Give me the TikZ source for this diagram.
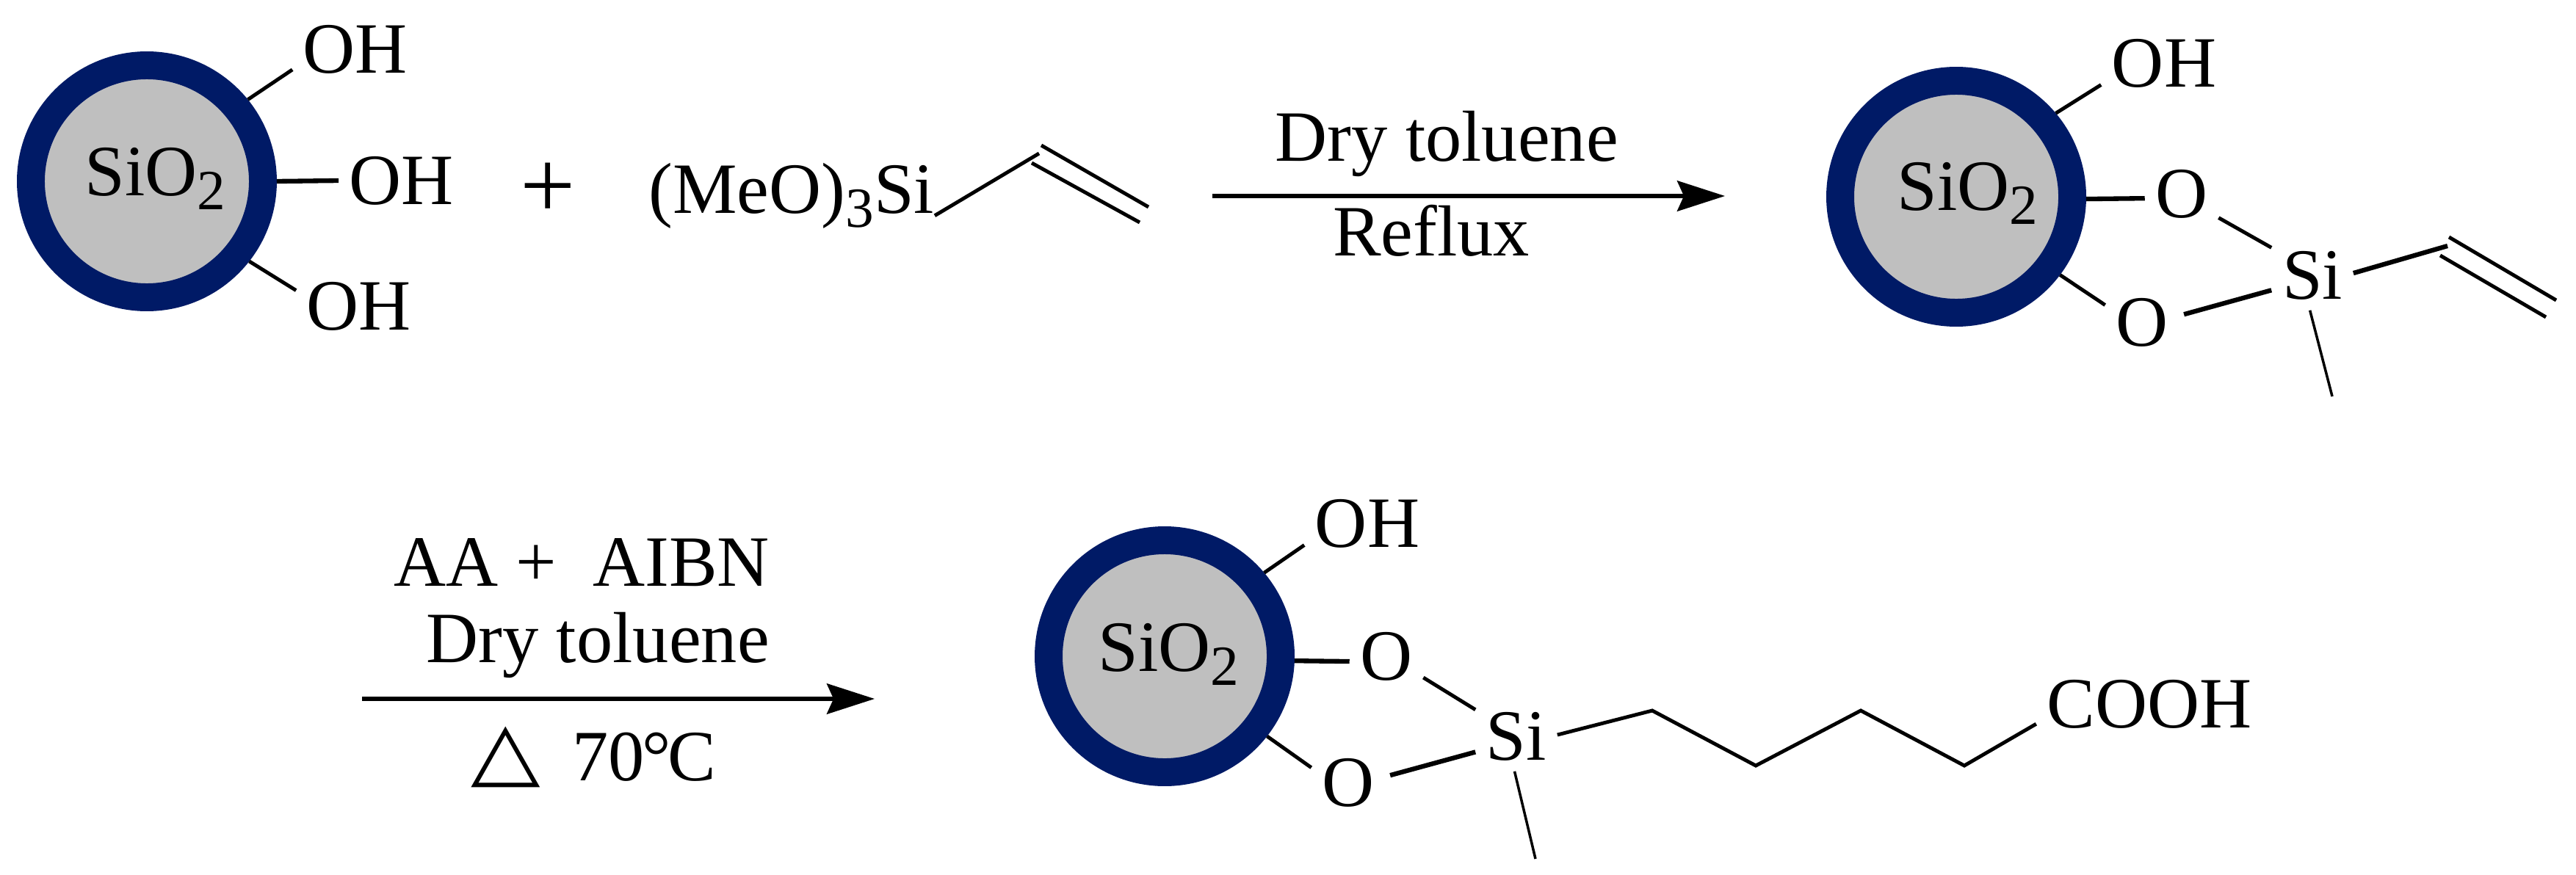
\documentclass[tikz,border=0pt]{standalone}
\usepackage{fontspec}
\setmainfont{Liberation Serif}
\newfontfamily\symbfont{DejaVu Sans}
\usetikzlibrary{arrows.meta}
\definecolor{shellColor}{RGB}{0,26,102}
\colorlet{coreColor}{black!25}
\newcommand{\chemsize}{\fontsize{28}{30}\selectfont}
\newcommand{\subnum}[1]{\raisebox{-.2em}{\fontsize{22}{24}\selectfont #1}}
\tikzset{
  sphere/.style={circle, draw=shellColor, fill=coreColor, line width=10.8pt, minimum size=3.16cm, inner sep=0pt},
  atom/.style={font=\chemsize, inner sep=4pt},
  plain/.style={font=\chemsize, inner sep=0pt},
  bond/.style={line width=1.4pt},
  heavybond/.style={line width=1.8pt},
  thinbond/.style={line width=1pt},
  reaction/.style={line width=1.5pt, -{Stealth[length=18.5pt,width=11.8pt,inset=2.6pt]}}
}
\begin{document}
\begin{tikzpicture}
  \useasboundingbox (0,0) rectangle (35.08,11.91);

  % silica with three hydroxyls
  \node[sphere] (sphereA) at (2.00,9.44) {};
  \node[plain, anchor=base west] (labelA) at (1.15,9.25) {SiO\subnum{2}};
  \node[atom] (ohA) at (4.84,11.24) {OH};
  \node[atom] (ohB) at (5.47,9.45) {OH};
  \node[atom] (ohC) at (4.89,7.74) {OH};
  \draw[bond] (sphereA.39.8) -- (ohA.198.4);
  \draw[heavybond] (sphereA.0) -- (ohB.180);
  \draw[bond] (sphereA.-38.6) -- (ohC.166);

  % vinyl silane
  \node[plain, font=\fontsize{38}{40}\selectfont] (plusA) at (7.46,9.31) {+};
  \node[plain, anchor=base west] (silane) at (8.83,9.01) {(MeO)\subnum{3}Si};
  \coordinate (vinA) at (14.15,9.82);
  \coordinate (vinB) at (14.05,9.69);
  \coordinate (vinC) at (15.52,8.88);
  \coordinate (vinD) at (14.18,9.93);
  \coordinate (vinJ) at (15.64,9.09);
  \draw[bond] (silane.-8) -- (vinA);
  \draw[bond] (vinB) -- (vinC);
  \draw[bond] (vinD) -- (vinJ);

  % first step
  \coordinate (arrowAs) at (16.51,9.24);
  \coordinate (arrowAe) at (23.49,9.24);
  \draw[reaction] (arrowAs) -- (arrowAe);
  \node[plain, anchor=base] (condA) at (19.70,9.72) {Dry toluene};
  \node[plain, anchor=base] (condB) at (19.49,8.43) {Reflux};

  % grafted vinyl
  \node[sphere] (sphereB) at (26.64,9.23) {};
  \node[plain, anchor=base west] (labelB) at (25.83,9.05) {SiO\subnum{2}};
  \node[atom] (ohD) at (29.47,11.05) {OH};
  \node[atom] (oA) at (29.71,9.27) {O};
  \node[atom] (oB) at (29.17,7.52) {O};
  \node[atom] (siA) at (31.49,8.16) {Si};
  \coordinate (vinE) at (33.33,8.56);
  \coordinate (vinF) at (33.35,8.68);
  \coordinate (vinG) at (34.81,7.82);
  \coordinate (vinH) at (33.23,8.43);
  \coordinate (vinI) at (34.67,7.59);
  \coordinate (methylA) at (31.76,6.51);
  \draw[bond] (sphereB.40) -- (ohD.199);
  \draw[heavybond] (sphereB.-1) -- (oA.187);
  \draw[bond] (sphereB.-37) -- (oB.155);
  \draw[bond] (oA.-33) -- (siA.146);
  \draw[heavybond, shorten <=2pt] (oB.10) -- (siA.200.6);
  \draw[heavybond] (siA.3) -- (vinE);
  \draw[bond] (vinF) -- (vinG);
  \draw[bond] (vinH) -- (vinI);
  \draw[thinbond] (siA.266) -- (methylA);

  % second step
  \node[plain, anchor=base] (condC) at (7.92,3.93) {AA +~ AIBN};
  \node[plain, anchor=base] (condD) at (8.14,2.89) {Dry toluene};
  \coordinate (arrowBs) at (4.93,2.39);
  \coordinate (arrowBe) at (11.91,2.39);
  \draw[reaction] (arrowBs) -- (arrowBe);
  \node[plain, font=\symbfont\fontsize{35}{37}\selectfont] (heat) at (6.89,1.60) {\scalebox{1}[.88]{△}};
  \node[plain, anchor=base west] (temp) at (7.79,1.28) {70\kern-.04em°\kern-.04em C};

  % product
  \node[sphere] (sphereC) at (15.86,2.97) {};
  \node[plain, anchor=base west] (labelC) at (14.95,2.77) {SiO\subnum{2}};
  \node[atom] (ohE) at (18.62,4.78) {OH};
  \node[atom] (oC) at (18.88,2.97) {O};
  \node[atom] (oD) at (18.36,1.25) {O};
  \node[atom] (siB) at (20.65,1.88) {Si};
  \node[atom] (cooh) at (29.27,2.32) {COOH};
  \coordinate (chainA) at (22.50,2.23);
  \coordinate (chainB) at (23.91,1.48);
  \coordinate (chainC) at (25.34,2.23);
  \coordinate (chainD) at (26.75,1.48);
  \coordinate (methylB) at (20.91,0.21);
  \draw[bond] (sphereC.40.4) -- (ohE.199.7);
  \draw[heavybond] (sphereC.-2) -- (oC.188);
  \draw[bond] (sphereC.-38.9) -- (oD.158);
  \draw[bond] (oC.-30.8) -- (siB.147.8);
  \draw[heavybond, shorten <=2pt] (oD.9) -- (siB.201.6);
  \draw[bond] (siB.2) -- (chainA) -- (chainB) -- (chainC) -- (chainD) -- (cooh.190.6);
  \draw[thinbond] (siB.267.5) -- (methylB);
\end{tikzpicture}
\end{document}
